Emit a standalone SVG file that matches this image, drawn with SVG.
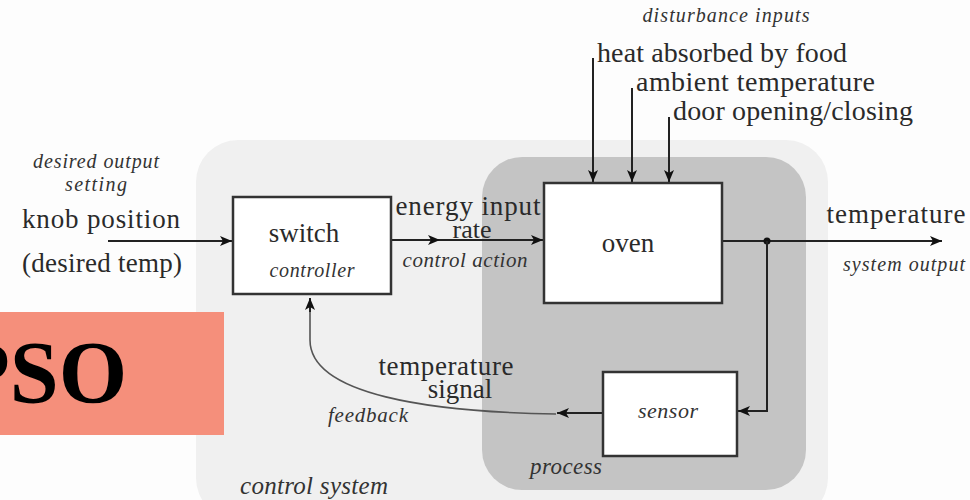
<svg xmlns="http://www.w3.org/2000/svg" width="970" height="500" viewBox="0 0 970 500" font-family="Liberation Serif, DejaVu Serif, serif">
  <style>
    .t { fill: #2a2a2a; }
    .it { font-style: italic; fill: #333; }
    .box { fill: #ffffff; stroke: #333; stroke-width: 2.5; }
    .wire { fill: none; stroke: #222; stroke-width: 2; }
    .fb { fill: none; stroke: #555; stroke-width: 1.6; }
  </style>
  <defs>
    <marker id="arr" viewBox="0 0 12 10" refX="12" refY="5" markerWidth="12" markerHeight="10" markerUnits="userSpaceOnUse" orient="auto">
      <path d="M0,0 L12,5 L0,10 L3,5 Z" fill="#111"/>
    </marker>
  </defs>

  <rect width="970" height="500" fill="#fdfdfd"/>

  <!-- regions -->
  <rect id="control-system" x="196" y="140" width="632" height="380" rx="42" fill="#f0f0f0"/>
  <rect id="process" x="482" y="157" width="324" height="333" rx="40" fill="#c4c4c4"/>

  <!-- connectors -->
  <g id="connectors">
    <line class="wire" x1="108" y1="241" x2="232" y2="241" marker-end="url(#arr)"/>
    <line class="wire" x1="391" y1="240" x2="440" y2="240" marker-end="url(#arr)"/>
    <line class="wire" x1="440" y1="240" x2="543" y2="240" marker-end="url(#arr)"/>
    <line class="wire" x1="723" y1="241" x2="942" y2="241" marker-end="url(#arr)"/>
    <circle cx="767" cy="241" r="3.5" fill="#111"/>
    <polyline class="wire" points="767,241 767,411 738,411" marker-end="url(#arr)"/>
    <line class="wire" x1="603" y1="413" x2="557" y2="413" marker-end="url(#arr)"/>
    <path class="fb" d="M556,414 C430,412 310,395 310,340 L310,300"/>
    <line class="wire" x1="310" y1="312" x2="310" y2="298" marker-end="url(#arr)"/>
    <line class="wire" x1="593" y1="58" x2="593" y2="182" marker-end="url(#arr)"/>
    <line class="wire" x1="632" y1="88" x2="632" y2="182" marker-end="url(#arr)"/>
    <line class="wire" x1="669" y1="117" x2="669" y2="182" marker-end="url(#arr)"/>
  </g>

  <!-- nodes -->
  <g id="switch">
    <rect class="box" x="233" y="197" width="158" height="97"/>
    <text class="t" x="304" y="242" font-size="27" text-anchor="middle">switch</text>
    <text class="it" x="312" y="277" font-size="20" text-anchor="middle" textLength="85">controller</text>
  </g>
  <g id="oven">
    <rect class="box" x="544" y="183" width="178" height="120"/>
    <text class="t" x="628" y="252" font-size="27" text-anchor="middle">oven</text>
  </g>
  <g id="sensor">
    <rect class="box" x="603" y="372" width="134" height="84"/>
    <text class="it" x="668" y="418" font-size="22" text-anchor="middle" textLength="60">sensor</text>
  </g>

  <!-- labels -->
  <g id="labels">
    <text class="it" x="726" y="22" font-size="20" text-anchor="middle" textLength="167">disturbance inputs</text>
    <text class="t" x="597" y="62" font-size="28" textLength="250">heat absorbed by food</text>
    <text class="t" x="636" y="91" font-size="28" textLength="239">ambient temperature</text>
    <text class="t" x="673" y="120" font-size="28" textLength="240">door opening/closing</text>

    <text class="it" x="96" y="168" font-size="20" text-anchor="middle" textLength="126">desired output</text>
    <text class="it" x="96" y="191" font-size="20" text-anchor="middle" textLength="62">setting</text>
    <text class="t" x="22" y="228" font-size="27" textLength="158">knob position</text>
    <text class="t" x="22" y="272" font-size="27" textLength="160">(desired temp)</text>

    <text class="t" x="468" y="215" font-size="27" text-anchor="middle" textLength="145">energy input</text>
    <text class="t" x="472" y="238" font-size="26" text-anchor="middle">rate</text>
    <text class="it" x="465" y="267" font-size="21" text-anchor="middle" textLength="125">control action</text>

    <text class="t" x="896" y="223" font-size="27" text-anchor="middle" textLength="139">temperature</text>
    <text class="it" x="904" y="271" font-size="20" text-anchor="middle" textLength="122">system output</text>

    <text class="t" x="446" y="375" font-size="27" text-anchor="middle" textLength="135">temperature</text>
    <text class="t" x="460" y="398" font-size="27" text-anchor="middle">signal</text>
    <text class="it" x="368" y="422" font-size="21" text-anchor="middle" textLength="80">feedback</text>
    <text class="it" x="566" y="474" font-size="23" text-anchor="middle" textLength="72">process</text>
    <text class="it" x="314" y="494" font-size="25" text-anchor="middle" textLength="148">control system</text>
  </g>

  <!-- title tag -->
  <g id="tag">
    <rect x="0" y="312" width="224" height="123" fill="#f58f7b"/>
    <text x="-44" y="402" font-weight="bold" font-size="88" fill="#000">PSO</text>
  </g>
</svg>
